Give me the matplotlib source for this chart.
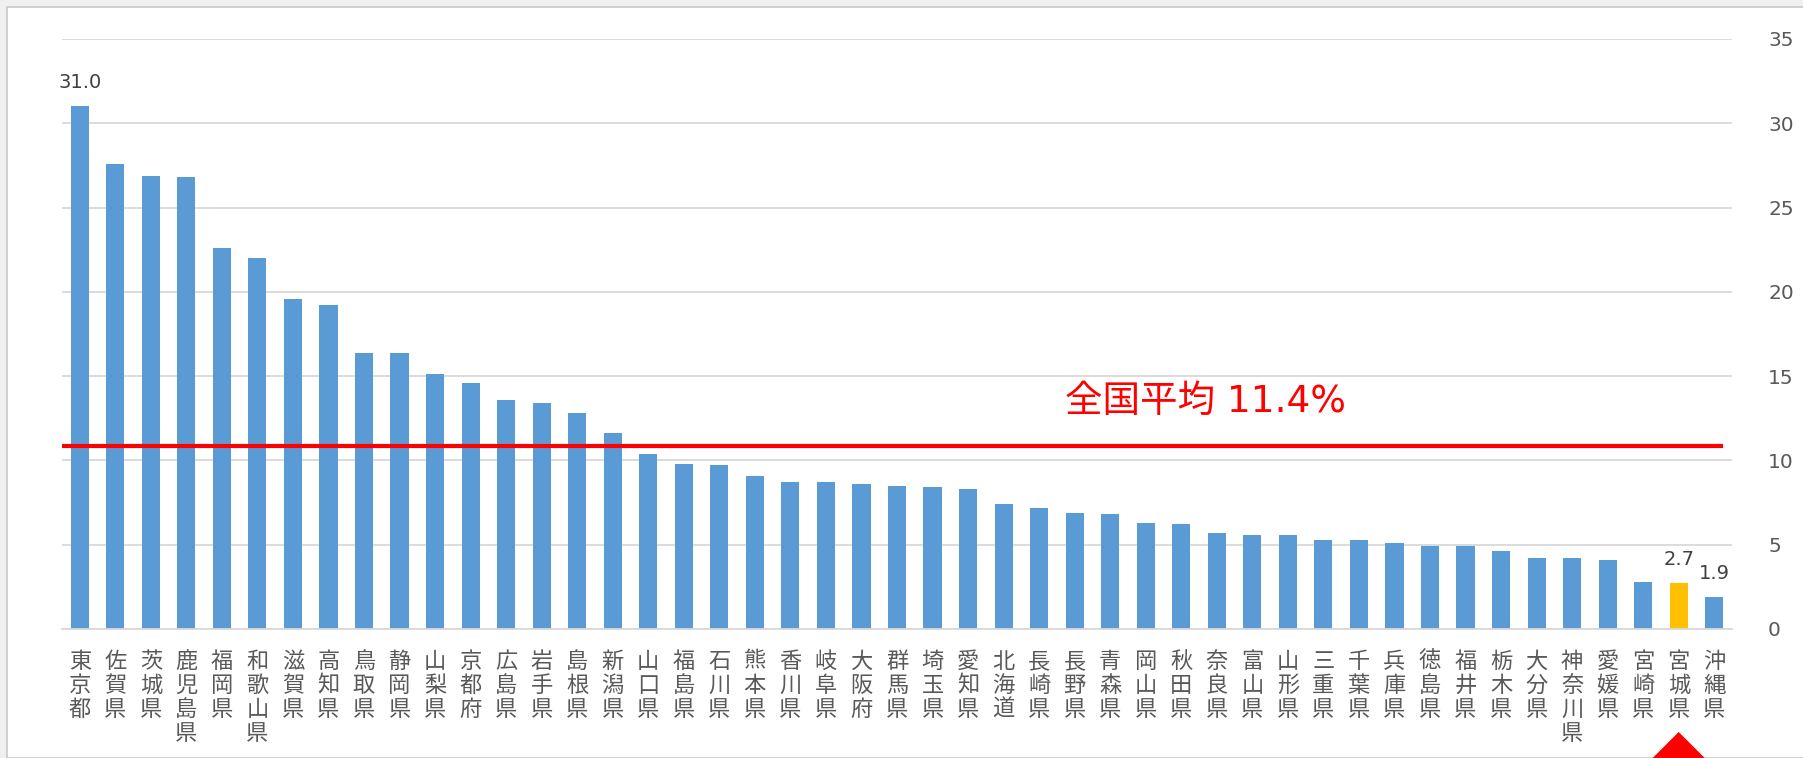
import matplotlib

matplotlib.use("Agg")
import matplotlib.pyplot as plt
import matplotlib.transforms as mtransforms
from matplotlib.patches import Polygon, Rectangle

plt.rcParams["font.family"] = ["Noto Sans CJK JP", "DejaVu Sans"]

prefectures = [
    "東京都", "佐賀県", "茨城県", "鹿児島県", "福岡県", "和歌山県", "滋賀県", "高知県",
    "鳥取県", "静岡県", "山梨県", "京都府", "広島県", "岩手県", "島根県", "新潟県",
    "山口県", "福島県", "石川県", "熊本県", "香川県", "岐阜県", "大阪府", "群馬県",
    "埼玉県", "愛知県", "北海道", "長崎県", "長野県", "青森県", "岡山県", "秋田県",
    "奈良県", "富山県", "山形県", "三重県", "千葉県", "兵庫県", "徳島県", "福井県",
    "栃木県", "大分県", "神奈川県", "愛媛県", "宮崎県", "宮城県", "沖縄県",
]
rates = [
    31.0, 27.6, 26.9, 26.8, 22.6, 22.0, 19.6, 19.2,
    16.4, 16.4, 15.1, 14.6, 13.6, 13.4, 12.8, 11.6,
    10.4, 9.8, 9.7, 9.1, 8.7, 8.7, 8.6, 8.5,
    8.4, 8.3, 7.4, 7.2, 6.9, 6.8, 6.3, 6.2,
    5.7, 5.6, 5.6, 5.3, 5.3, 5.1, 4.9, 4.9,
    4.6, 4.2, 4.2, 4.1, 2.8, 2.7, 1.9,
]
highlight = "宮城県"
labelled = ["東京都", "宮城県", "沖縄県"]
avg_line = 10.85
avg_text = "全国平均 11.4%"
yticks = [0, 5, 10, 15, 20, 25, 30, 35]

W, H = 1803, 758
fig = plt.figure(figsize=(W / 100, H / 100), dpi=100)
fig.patch.set_facecolor("#f0f0f0")
fig.patches.append(Rectangle((7 / W, 0), 1, 1 - 7 / H, transform=fig.transFigure,
                             facecolor="white", edgecolor="#c8c8c8", lw=1.2, zorder=-1))

ax = fig.add_axes([62 / W, 1 - 629 / H, (1732 - 62) / W, (629 - 39) / H])
ax.set_facecolor("none")

x = list(range(len(prefectures)))
colors = ["#FFC000" if p == highlight else "#5B9BD5" for p in prefectures]
ax.bar(x, rates, width=0.51, color=colors, zorder=2)

for i, (p, v) in enumerate(zip(prefectures, rates)):
    if p in labelled:
        ax.annotate(f"{v:.1f}", (i, v), xytext=(0, 13), textcoords="offset points",
                    ha="center", va="baseline", fontsize=14, color="#404040",
                    family="DejaVu Sans")

ax.set_xlim(-0.5, len(prefectures) - 0.5)
ax.set_ylim(0, 35)
ax.set_yticks(yticks)
ax.yaxis.tick_right()
ax.tick_params(axis="y", length=0, pad=26, labelsize=14.5, labelcolor="#595959")
for lab in ax.get_yticklabels():
    lab.set_family("DejaVu Sans")
ax.grid(axis="y", color="#d9d9d9", lw=1.3, zorder=0)
for s in ["top", "left", "right"]:
    ax.spines[s].set_visible(False)
ax.spines["bottom"].set_color("#d9d9d9")
ax.spines["bottom"].set_linewidth(1.3)

ax.set_xticks(x)
ax.set_xticklabels(["\n".join(p) for p in prefectures], fontsize=16,
                   color="#595959", linespacing=1.06, va="top")
ax.tick_params(axis="x", length=0, pad=15)

ax.plot([-0.5, len(prefectures) - 0.8], [avg_line, avg_line], color="#ff0000", lw=3, zorder=3)
ax.text(0.685, 13.45, avg_text, transform=mtransforms.blended_transform_factory(ax.transAxes, ax.transData),
        ha="center", va="center", fontsize=27, color="#ff0000",
        family=["DejaVu Sans", "Noto Sans CJK JP"])

# marker under the highlighted prefecture
hi = prefectures.index(highlight)
tri_tr = mtransforms.blended_transform_factory(ax.transData, fig.transFigure)
half = 26 / 35.53
fig.patches.append(Polygon([(hi - half, 0), (hi, 26 / H), (hi + half, 0)], closed=True,
                           transform=tri_tr, facecolor="#ff0000", edgecolor="none"))

fig.savefig("out.png", dpi=100, facecolor=fig.get_facecolor())
